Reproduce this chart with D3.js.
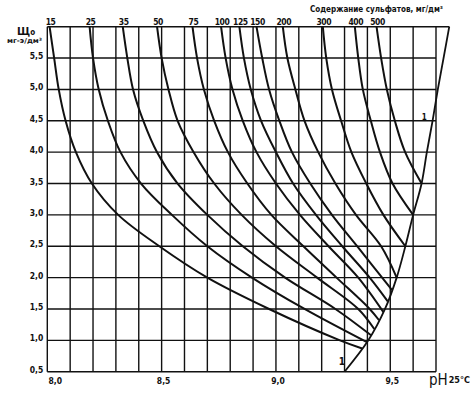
<!DOCTYPE html>
<html>
<head>
<meta charset="utf-8">
<script src="https://cdn.jsdelivr.net/npm/d3@7"></script>
<style>
  body { margin: 0; background: #fff; }
  text { font-family: "DejaVu Sans Condensed", "Liberation Sans Narrow", sans-serif; font-weight: bold; fill: #111; }
</style>
</head>
<body>
<svg id="chart" width="474" height="396"></svg>
<script>
// sulfate content, mg/dm3 (one curve each)
let sulfates = [15, 25, 35, 50, 75, 100, 125, 150, 200, 300, 400, 500];

// [pH, Щo]
let c15  = [[8.01, 6.0], [8.03, 5.5], [8.05, 5.0], [8.08, 4.5], [8.125, 4.0], [8.195, 3.5], [8.31, 3.0], [8.49, 2.5], [8.70, 2.0], [8.97, 1.5], [9.28, 1.0], [9.377, 0.87]];
let c25  = [[8.185, 6.0], [8.20, 5.5], [8.225, 5.0], [8.265, 4.5], [8.32, 4.0], [8.41, 3.5], [8.545, 3.0], [8.70, 2.5], [8.895, 2.0], [9.125, 1.5], [9.398, 0.97]];
let c35  = [[8.33, 6.0], [8.35, 5.5], [8.375, 5.0], [8.42, 4.5], [8.48, 4.0], [8.57, 3.5], [8.70, 3.0], [8.855, 2.5], [9.04, 2.0], [9.26, 1.5], [9.416, 1.08]];
let c50  = [[8.48, 6.0], [8.50, 5.5], [8.53, 5.0], [8.57, 4.5], [8.64, 4.0], [8.73, 3.5], [8.85, 3.0], [9.00, 2.5], [9.18, 2.0], [9.36, 1.5], [9.43, 1.18]];
let c75  = [[8.635, 6.0], [8.655, 5.5], [8.685, 5.0], [8.73, 4.5], [8.79, 4.0], [8.875, 3.5], [8.98, 3.0], [9.12, 2.5], [9.265, 2.0], [9.41, 1.5], [9.451, 1.32]];
let c100 = [[8.76, 6.0], [8.78, 5.5], [8.81, 5.0], [8.855, 4.5], [8.915, 4.0], [9.00, 3.5], [9.105, 3.0], [9.23, 2.5], [9.36, 2.0], [9.47, 1.45]];
let c125 = [[8.84, 6.0], [8.86, 5.5], [8.89, 5.0], [8.935, 4.5], [9.00, 4.0], [9.075, 3.5], [9.175, 3.0], [9.29, 2.5], [9.41, 2.0], [9.489, 1.62]];
let c150 = [[8.915, 6.0], [8.94, 5.5], [8.97, 5.0], [9.015, 4.5], [9.07, 4.0], [9.15, 3.5], [9.245, 3.0], [9.355, 2.5], [9.508, 1.8]];
let c200 = [[9.03, 6.0], [9.05, 5.5], [9.085, 5.0], [9.125, 4.5], [9.185, 4.0], [9.26, 3.5], [9.35, 3.0], [9.46, 2.5], [9.528, 2.0]];
let c300 = [[9.205, 6.0], [9.22, 5.5], [9.245, 5.0], [9.285, 4.5], [9.33, 4.0], [9.395, 3.5], [9.47, 3.0], [9.566, 2.5]];
let c400 = [[9.345, 6.0], [9.36, 5.5], [9.38, 5.0], [9.415, 4.5], [9.455, 4.0], [9.51, 3.5], [9.60, 3.0]];
let c500 = [[9.44, 6.0], [9.46, 5.5], [9.485, 5.0], [9.52, 4.5], [9.565, 4.0], [9.637, 3.5]];

// boundary line 1
let line1 = [[9.30, 0.5], [9.404, 1.0], [9.477, 1.5], [9.528, 2.0], [9.566, 2.5], [9.60, 3.0], [9.637, 3.5], [9.66, 4.0], [9.685, 4.5], [9.708, 5.0], [9.733, 5.5], [9.758, 6.0]];
let line1Marks = [[9.288, 0.61], [9.649, 4.52]];

let xTicks = [8.0, 8.5, 9.0, 9.5];
let yTicks = [0.5, 1.0, 1.5, 2.0, 2.5, 3.0, 3.5, 4.0, 4.5, 5.0, 5.5];

let curves = [c15, c25, c35, c50, c75, c100, c125, c150, c200, c300, c400, c500];

var svg = d3.select("#chart");

var x = d3.scaleLinear().domain([8.0, 9.7]).range([47.3, 436]);
var y = d3.scaleLinear().domain([0.5, 6.0]).range([371.7, 26.7]);

var gridX = d3.range(80, 98).map(v => v / 10),
    gridY = d3.range(1, 13).map(v => v / 2);

var grid = svg.append("g")
              .attr("stroke", "#111")
              .attr("stroke-width", 1.4);

grid.selectAll("line.v")
    .data(gridX)
    .enter()
    .append("line")
    .attr("class", "v")
    .attr("x1", d => x(d)).attr("x2", d => x(d))
    .attr("y1", y(0.5)).attr("y2", y(6.0));

grid.selectAll("line.h")
    .data(gridY)
    .enter()
    .append("line")
    .attr("class", "h")
    .attr("x1", x(8.0))
    .attr("x2", d => d === 6.0 ? x(line1[line1.length - 1][0]) : x(9.7))
    .attr("y1", d => y(d)).attr("y2", d => y(d));

var lineGen = d3.line()
                .x(d => x(d[0]))
                .y(d => y(d[1]))
                .curve(d3.curveCatmullRom.alpha(0.5));

svg.append("g")
   .selectAll("path")
   .data(curves)
   .enter()
   .append("path")
   .attr("d", lineGen)
   .attr("fill", "none")
   .attr("stroke", "#111")
   .attr("stroke-width", 2);

svg.append("path")
   .datum(line1)
   .attr("d", lineGen)
   .attr("fill", "none")
   .attr("stroke", "#111")
   .attr("stroke-width", 1.8);

// sulfate labels on top
svg.append("g")
   .selectAll("text")
   .data(sulfates)
   .enter()
   .append("text")
   .attr("x", (d, i) => x(curves[i][0][0]) + 1)
   .attr("y", y(6.0) - 2)
   .attr("text-anchor", "middle")
   .attr("font-size", 8.5)
   .attr("letter-spacing", -0.4)
   .text(d => d);

svg.append("text")
   .attr("x", 310)
   .attr("y", 12)
   .attr("font-size", 8)
   .attr("textLength", 133)
   .attr("lengthAdjust", "spacingAndGlyphs")
   .text("Содержание сульфатов, мг/дм³");

// y axis labels
var fmt = d => d3.format(".1f")(d).replace(".", ",");

svg.append("g")
   .selectAll("text")
   .data(yTicks)
   .enter()
   .append("text")
   .attr("x", x(8.0) - 4)
   .attr("y", d => y(d) + 1)
   .attr("text-anchor", "end")
   .attr("font-size", 8.5)
   .text(fmt);

var yTitle = svg.append("text").attr("x", 17).attr("y", 35);
yTitle.append("tspan").attr("font-size", 11).text("Щ");
yTitle.append("tspan").attr("font-size", 8).text("о");

svg.append("text")
   .attr("x", 7)
   .attr("y", 43)
   .attr("font-size", 7)
   .attr("textLength", 35)
   .attr("lengthAdjust", "spacingAndGlyphs")
   .text("мг-э/дм³");

// x axis labels
svg.append("g")
   .selectAll("text")
   .data(xTicks)
   .enter()
   .append("text")
   .attr("x", (d, i) => x(d) + (i === 0 ? 8 : 2))
   .attr("y", y(0.5) + 12)
   .attr("text-anchor", "middle")
   .attr("font-size", 8.5)
   .text(fmt);

var xTitle = svg.append("text").attr("x", 429).attr("y", 385);
xTitle.append("tspan").attr("font-size", 15).attr("font-weight", "normal").text("pH");
xTitle.append("tspan").attr("font-size", 9).attr("dx", 1).attr("dy", -2).text("25°C");

svg.append("g")
   .selectAll("text")
   .data(line1Marks)
   .enter()
   .append("text")
   .attr("x", d => x(d[0]))
   .attr("y", d => y(d[1]))
   .attr("text-anchor", "middle")
   .attr("font-size", (d, i) => i === 0 ? 10 : 8)
   .text("1");
</script>
</body>
</html>
